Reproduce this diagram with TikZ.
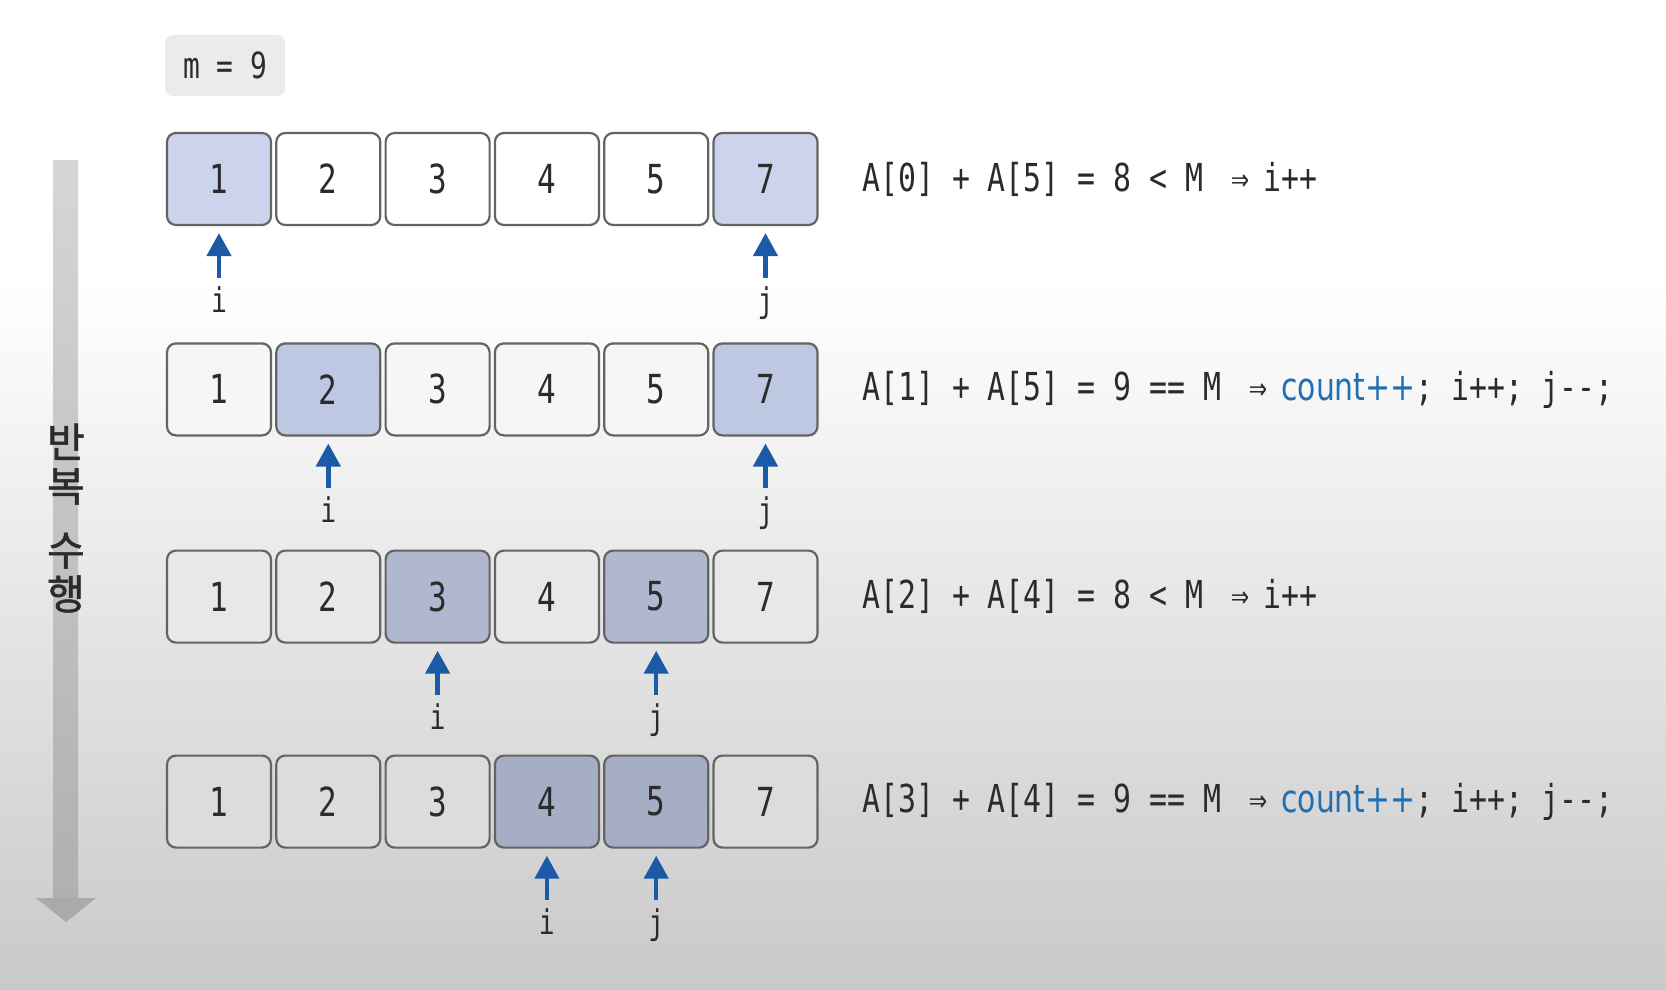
\documentclass[tikz,border=0pt]{standalone}
\usepackage{fontspec}
\newfontfamily\monof[FakeStretch=0.775]{DejaVu Sans Mono}
\newfontfamily\propf[FakeStretch=0.775]{DejaVu Sans}
\newfontfamily\krf[FakeBold=1.2]{Noto Sans CJK KR}
\usetikzlibrary{arrows.meta}
\definecolor{txt}{RGB}{43,43,43}
\definecolor{bord}{RGB}{100,100,100}
\definecolor{ptrblue}{RGB}{26,90,166}
\definecolor{cntblue}{RGB}{31,111,178}
\definecolor{mbox}{RGB}{235,235,235}
\definecolor{bgmid}{RGB}{229,229,229}
\definecolor{bgbot}{RGB}{201,201,201}
\definecolor{garTop}{RGB}{214,214,214}
\definecolor{garBot}{RGB}{176,176,176}
\definecolor{garHead}{RGB}{170,170,170}
\definecolor{pA}{RGB}{255,255,255}
\definecolor{hA}{RGB}{203,212,236}
\definecolor{pB}{RGB}{246,246,246}
\definecolor{hB}{RGB}{190,200,226}
\definecolor{pC}{RGB}{232,232,232}
\definecolor{hC}{RGB}{176,184,208}
\definecolor{pD}{RGB}{220,220,220}
\definecolor{hD}{RGB}{166,174,198}
\newcommand\impl{~\hspace{10pt}⇒\hspace{-4pt}~}
\newcommand\cnt{\textcolor{cntblue}{\propf count++}}
\begin{document}
\begin{tikzpicture}[x=1pt,y=-1pt,
  cell/.style={draw=bord, line width=2.2pt, rounded corners=9pt,
    minimum width=104pt, minimum height=92pt, inner sep=0pt,
    text=txt, font=\monof\fontsize{40}{48}\selectfont},
  ptrlab/.style={inner sep=0pt, text height=26pt, text depth=8pt,
    text=txt, font=\monof\fontsize{34}{40}\selectfont},
  ptr/.style={draw=ptrblue, line width=4.5pt,
    -{Triangle[length=23pt,width=24pt]}, shorten >=7pt, shorten <=8pt},
  eqn/.style={anchor=west, inner sep=0pt, text=txt,
    font=\monof\fontsize{38.5}{46}\selectfont},
  mlab/.style={fill=mbox, rounded corners=8pt, minimum width=120pt,
    minimum height=61pt, inner sep=0pt, text=txt,
    font=\monof\fontsize{36}{42}\selectfont}]
\useasboundingbox (0,0) rectangle (1666,990);
% background
\fill[white] (0,0) rectangle (1666,281);
\shade[top color=white, bottom color=bgmid] (0,280) rectangle (1666,621);
\shade[top color=bgmid, bottom color=bgbot] (0,620) rectangle (1666,990);
% gray vertical arrow
\shade[top color=garTop, bottom color=garBot] (53,160) rectangle (78,898);
\fill[garHead] (36,898) -- (96,898) -- (66,922) -- cycle;
\node[font=\krf\fontsize{41}{44}\selectfont, text=txt, align=center, inner sep=0pt] (kor) at (66,518) {반\\복\\[20pt]수\\행};
% m = 9
\node[mlab] (m) at (225,65.5) {m = 9};
% cells
\foreach \r/\y/\pl/\hl/\ia/\ib in {1/179/pA/hA/1/6, 2/389.4/pB/hB/2/6, 3/596.6/pC/hC/3/5, 4/801.6/pD/hD/4/5}{
  \foreach \v [count=\k] in {1,2,3,4,5,7}{
    \ifnum\k=\ia \def\fc{\hl}\else\ifnum\k=\ib \def\fc{\hl}\else\def\fc{\pl}\fi\fi
    \node[cell, fill=\fc] (r\r c\k) at ({219+109.3*(\k-1)},\y) {\v};
  }
  \node[ptrlab] (i\r) at ({219+109.3*(\ia-1)},\y+124) {i};
  \node[ptrlab] (j\r) at ({219+109.3*(\ib-1)},\y+124) {j};
  \draw[ptr] (i\r) -- (r\r c\ia);
  \draw[ptr] (j\r) -- (r\r c\ib);
}
% equations
\node[eqn] (e1) at (862,179) {A[0] + A[5] = 8 < M\impl i++};
\node[eqn] (e2) at (862,389.4) {A[1] + A[5] = 9 == M\impl\cnt; i++; j{-}{-};};
\node[eqn] (e3) at (862,596.6) {A[2] + A[4] = 8 < M\impl i++};
\node[eqn] (e4) at (862,801.6) {A[3] + A[4] = 9 == M\impl\cnt; i++; j{-}{-};};
\end{tikzpicture}
\end{document}
